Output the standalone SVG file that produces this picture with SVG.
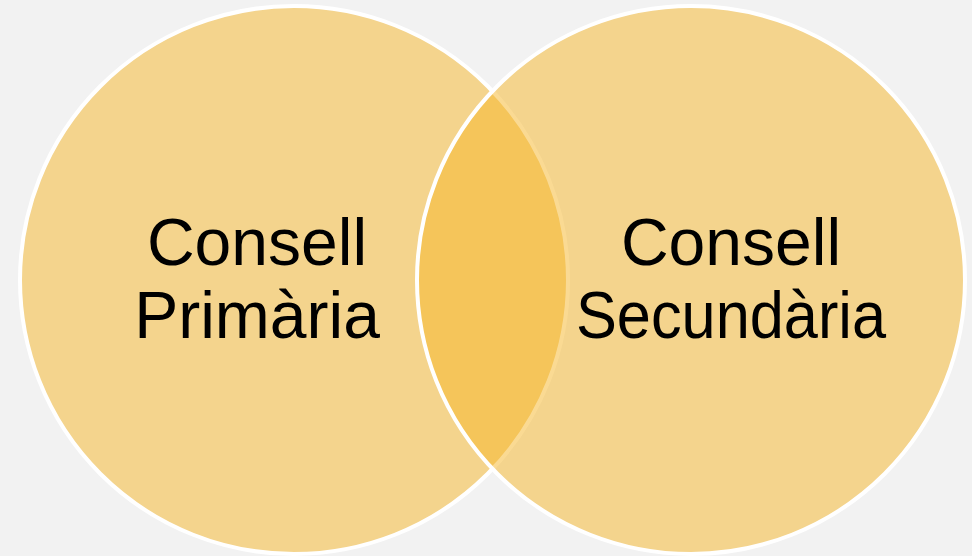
<svg xmlns="http://www.w3.org/2000/svg" width="972" height="556" viewBox="0 0 972 556">
  <style>
    .circle { fill: #F6B527; fill-opacity: 0.5; stroke: #FFFFFF; stroke-width: 4; }
    .label { font-family: "Liberation Sans", "Open Sans", Arial, sans-serif; font-size: 66px; fill: #000000; text-anchor: middle; }
  </style>
  <rect x="0" y="0" width="972" height="556" fill="#F2F2F2"/>
  <g id="node-primaria">
    <circle class="circle" cx="294" cy="280" r="274"/>
  </g>
  <g id="node-secundaria">
    <circle class="circle" cx="691" cy="280" r="274"/>
  </g>
  <g id="connectors"></g>
  <g id="labels">
    <text class="label" x="257" y="265">Consell</text>
    <text class="label" x="257" y="338">Primària</text>
    <text class="label" x="731" y="265">Consell</text>
    <text class="label" x="731" y="338" textLength="310" lengthAdjust="spacingAndGlyphs">Secundària</text>
  </g>
</svg>
